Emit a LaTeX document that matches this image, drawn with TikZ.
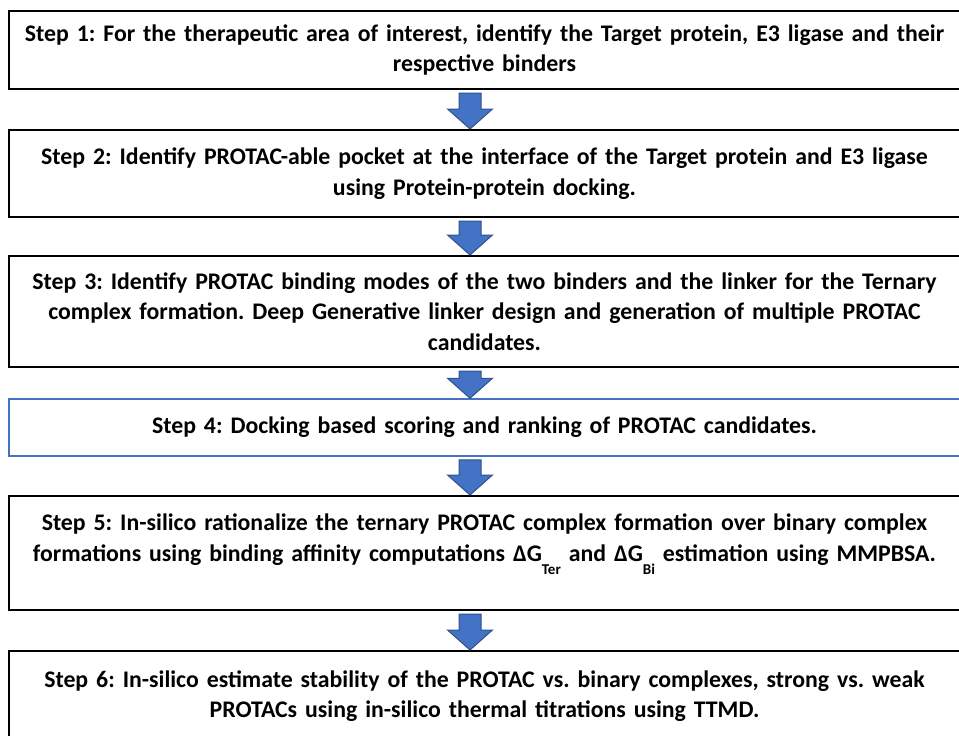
\documentclass[tikz,border=0pt]{standalone}
\usepackage{fontspec}
\setmainfont{Carlito}
\usetikzlibrary{calc}

\definecolor{officeblue}{HTML}{4472C4}
\definecolor{officeedge}{HTML}{2F528F}

\tikzset{
  stepbox/.style={draw=black, line width=2pt, minimum width=951pt, text width=949pt,
    align=center, inner sep=0pt, font=\fontsize{23.8}{30.5}\selectfont\bfseries\frenchspacing},
  steparrow/.style={fill=officeblue, draw=officeedge, line width=1pt}
}
\newcommand{\lowsub}[1]{\raisebox{-13pt}[0pt][0pt]{\fontsize{15}{15}\selectfont #1}}

\begin{document}
\begin{tikzpicture}[x=1pt, y=-1pt]
  \useasboundingbox (0,0) rectangle (959,736);
  \clip (0,0) rectangle (959,736);

  \node[stepbox, minimum height=78pt] (s1) at (484.5,50) {Step 1: For the therapeutic area of interest, identify the Target protein, E3 ligase and their\\ respective binders};
  \node[stepbox, minimum height=87pt] (s2) at (484.5,173.5) {Step 2: Identify PROTAC-able pocket at the interface of the Target protein and E3 ligase\\ using Protein-protein docking.};
  \node[stepbox, minimum height=111pt] (s3) at (484.5,311.5) {Step 3: Identify PROTAC binding modes of the two binders and the linker for the Ternary\\ complex formation. Deep Generative linker design and generation of multiple PROTAC\\ candidates.};
  \node[stepbox, draw=officeblue, line width=1.5pt, minimum height=57pt] (s4) at (484.5,427.5) {Step 4: Docking based scoring and ranking of PROTAC candidates.};
  \node[stepbox, minimum height=114pt] (s5) at (484.5,553) {Step 5: In-silico rationalize the ternary PROTAC complex formation over binary complex\\ formations using binding affinity computations ΔG\lowsub{Ter} and ΔG\lowsub{Bi} estimation using MMPBSA.\\ \mbox{}};
  \node[stepbox, minimum height=90pt] (s6) at (484.5,696) {Step 6: In-silico estimate stability of the PROTAC vs. binary complexes, strong vs. weak\\ PROTACs using in-silico thermal titrations using TTMD.};

  % block arrows between the steps
  \foreach \a/\b in {s1/s2, s2/s3, s3/s4, s4/s5, s5/s6}
    \filldraw[steparrow] let \p1=(\a.south), \p2=(\b.north) in
      (\x1-25.5pt,\y1-3pt) -- (\x1-3.5pt,\y1-3pt) -- (\x1-3.5pt,\y2+20pt) -- (\x1+8pt,\y2+20pt)
      -- (\x1-14.5pt,\y2) -- (\x1-37pt,\y2+20pt) -- (\x1-25.5pt,\y2+20pt) -- cycle;
\end{tikzpicture}
\end{document}
